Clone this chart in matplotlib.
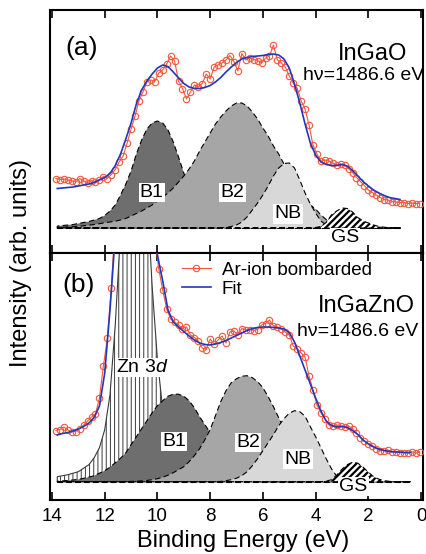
# XPS valence band spectra of InGaO and InGaZnO with peak-fit components.
import numpy as np
import matplotlib
matplotlib.use("Agg")
import matplotlib.pyplot as plt

plt.rcParams["font.family"] = ["Liberation Sans", "DejaVu Sans"]
plt.rcParams["mathtext.fontset"] = "custom"
plt.rcParams["mathtext.rm"] = "Liberation Sans"
plt.rcParams["mathtext.it"] = "Liberation Sans:italic"

# Energy grids (eV): measured points and fit/components
data_e = np.round(np.arange(13.85, 0.0, -0.15), 2)
comp_e_a = np.round(np.arange(13.8, 0.79, -0.2), 2)
comp_e_b = np.round(np.arange(13.8, 0.39, -0.2), 2)

# ---- panel (a) InGaO ----
data_a = [74.5, 73.5, 74, 73, 72, 71, 74.5, 72, 70.5, 72.5,
          71, 73.5, 76.5, 74.5, 78.5, 83.5, 91, 97, 110, 124,
          137, 152, 161, 171, 173, 171.5, 180, 183, 189, 197,
          192, 172, 164.5, 154, 161, 168, 166, 169.5, 179, 174,
          186, 188, 190, 193, 197.5, 191.5, 182, 199.5, 193, 195,
          193.5, 192.5, 190, 195, 197, 208, 193, 190, 186, 177,
          170, 165, 152, 144, 128, 108, 99, 92, 93, 92,
          90, 88, 89, 88, 84.5, 80.5, 75.5, 71.5, 67.5, 63,
          60.5, 58, 55.5, 53.5, 53, 51.5, 51, 50.5, 50.5, 49.5,
          50, 49.5, 49.5]
fit_a = [64.5, 65, 65.5, 66, 67, 68, 69, 70.5, 73, 75.5,
         79.5, 87.5, 99, 114, 130, 149, 163, 172, 179, 185,
         188, 186.5, 181, 175, 169.5, 166, 164.5, 164.5, 165.5, 167.5,
         171, 175.5, 181, 186, 190.5, 194, 195.5, 196.5, 197, 197.5,
         198.5, 199, 198, 194, 185, 169, 150, 129, 110, 98,
         91, 88.5, 87.5, 87.5, 88.5, 87, 82.5, 77, 71.5, 67,
         63, 60, 57.5, 55.5, 54.5, 53.5]
b1_a = [2, 2.5, 3, 3.5, 4.5, 5.5, 6.5, 8, 9.5, 12.5,
        17, 23, 33, 44, 57, 74, 88, 99, 105, 107,
        105, 98, 86, 71, 55, 41, 28, 19, 12, 8,
        5, 3, 2, 1, 0.5, 0, 0, 0, 0, 0,
        0, 0, 0, 0, 0, 0, 0, 0, 0, 0,
        0, 0, 0, 0, 0, 0, 0, 0, 0, 0,
        0, 0, 0, 0, 0, 0]
b2_a = [0.5, 0.7, 1, 1.3, 1.7, 2.2, 2.8, 3.5, 4.3, 5.3,
        6, 6.8, 8, 9.5, 12, 14.5, 17, 20, 23, 27,
        31, 35, 40, 46, 52, 59, 67, 77, 86, 95,
        104, 111, 117, 122, 125, 125, 122, 116, 109, 100,
        92, 82, 74, 64, 54, 45, 37, 29, 23, 19,
        13, 8.5, 5.5, 3.5, 2, 1.2, 0.7, 0.4, 0.2, 0,
        0, 0, 0, 0, 0, 0]
nb_a = [0, 0, 0, 0, 0, 0, 0, 0, 0, 0,
        0, 0, 0, 0, 0, 0, 0, 0, 0, 0,
        0, 0, 0, 0, 0, 0, 0, 0, 0, 0,
        0, 0, 0.5, 1.5, 3, 6, 11, 18, 25, 33,
        42, 52, 60, 64.5, 65, 60, 48, 35, 24, 15,
        7, 3, 1, 0.3, 0, 0, 0, 0, 0, 0,
        0, 0, 0, 0, 0, 0]
gs_a = [0, 0, 0, 0, 0, 0, 0, 0, 0, 0,
        0, 0, 0, 0, 0, 0, 0, 0, 0, 0,
        0, 0, 0, 0, 0, 0, 0, 0, 0, 0,
        0, 0, 0, 0, 0, 0, 0, 0, 0, 0,
        0, 0, 0, 0, 0, 0, 0, 0, 0, 0.5,
        1.5, 5.5, 13, 17, 20, 19.5, 16, 10.5, 7, 5,
        3, 1.5, 0.8, 0.3, 0, 0]
base_a = 25

# ---- panel (b) InGaZnO ----
data_b = [69.5, 70.5, 73, 70, 68, 68.5, 71.5, 75, 79, 83,
          86, 102, 134, 162, 212, 280, 330, 380, 410, 430,
          430, 415, 390, 350, 300, 262, 231, 210, 191, 181,
          178, 175, 171.5, 173, 165, 162.5, 159, 152, 150.5, 161,
          156, 160, 164, 157, 168, 169, 165.5, 171.5, 170, 170.5,
          169.5, 170.5, 175, 176.5, 180, 174, 173, 171, 168, 165,
          154, 151.5, 147, 143, 124, 110, 95, 87.5, 81, 75,
          74, 75, 74, 73.5, 74, 71.5, 67, 62.5, 59, 56.5,
          54.5, 51.5, 49, 49.5, 50, 48.3, 48.5, 47.5, 47, 47,
          48.3, 46.7, 48]
fit_b = [65, 66.5, 67.5, 69, 71, 73.5, 77, 82.5, 94, 127,
         190, 265, 330, 380, 410, 420, 400, 350, 290, 245,
         219, 190, 178, 173, 168.5, 164, 160, 157, 155.5, 155,
         156, 157.5, 159.5, 162, 164.5, 167, 169.5, 171.5, 172.5, 173,
         173, 172.5, 172, 171, 167.5, 158, 144, 130, 116, 102,
         89, 79, 74.5, 73, 73.5, 72.5, 69.5, 65.5, 60, 56,
         53, 51, 49.5, 48.5, 48, 48, 47.5, 47.5]
zn3d_b = [5, 6, 7, 8.5, 10, 13.5, 17, 24, 34, 52,
          87, 157, 250, 340, 400, 410, 370, 290, 195, 122,
          72, 45, 29, 20, 15, 12, 9.5, 8, 7, 6,
          5, 4, 3, 2.5, 2, 1.5, 1, 0.5, 0, 0,
          0, 0, 0, 0, 0, 0, 0, 0, 0, 0,
          0, 0, 0, 0, 0, 0, 0, 0, 0, 0,
          0, 0, 0, 0, 0, 0, 0, 0]
b1_b = [0.5, 0.8, 1.2, 1.7, 2.3, 3.4, 4.6, 6, 8.5, 11,
        14.5, 19, 23.5, 29, 37, 45, 53, 61, 69, 76,
        81, 85.5, 87.5, 87.5, 85.5, 81, 74, 65, 57, 49,
        41, 33, 26, 20, 15, 11, 8, 5.5, 4, 2.5,
        1.5, 1, 0.5, 0, 0, 0, 0, 0, 0, 0,
        0, 0, 0, 0, 0, 0, 0, 0, 0, 0,
        0, 0, 0, 0, 0, 0, 0, 0]
b2_b = [0, 0, 0, 0, 0, 0, 0, 0, 0, 0,
        0, 0, 0, 0, 0.3, 0.5, 0.8, 1.2, 2, 3,
        4.5, 6.5, 9, 12, 15, 20, 26, 33, 42, 52,
        66, 80, 91, 99, 103, 105.5, 106, 104, 100, 94,
        85, 75, 64, 53, 43, 34, 26, 20, 14.5, 10.5,
        7.5, 5, 3.3, 2, 1.2, 0.7, 0.4, 0.2, 0, 0,
        0, 0, 0, 0, 0, 0, 0, 0]
nb_b = [0, 0, 0, 0, 0, 0, 0, 0, 0, 0,
        0, 0, 0, 0, 0, 0, 0, 0, 0, 0,
        0, 0, 0, 0, 0, 0, 0, 0, 0, 0,
        0, 0.3, 1, 2, 3.5, 6, 10, 16, 23, 31,
        39, 47, 56, 63, 68.5, 71, 70, 65.5, 55, 45,
        34, 23, 13, 5.5, 2.5, 1, 0.4, 0, 0, 0,
        0, 0, 0, 0, 0, 0, 0, 0]
gs_b = [0, 0, 0, 0, 0, 0, 0, 0, 0, 0,
        0, 0, 0, 0, 0, 0, 0, 0, 0, 0,
        0, 0, 0, 0, 0, 0, 0, 0, 0, 0,
        0, 0, 0, 0, 0, 0, 0, 0, 0, 0,
        0, 0, 0, 0, 0, 0, 0, 0, 0, 0,
        0, 0.5, 2, 6.5, 12.5, 17, 19.5, 18.5, 14.5, 9.5,
        5, 2.5, 1, 0.4, 0, 0, 0, 0]
base_b = 18.3

xticks = [14, 12, 10, 8, 6, 4, 2, 0]

RED = "#f5553a"
BLUE = "#2038c0"
DASH = (0, (5, 3))

fig = plt.figure(figsize=(4.26, 5.54), dpi=100)
ax_a = fig.add_axes([50 / 426, 301 / 554, 373 / 426, 243 / 554])
ax_b = fig.add_axes([50 / 426, 54 / 554, 373 / 426, 247 / 554])


def shade(ax, e, base, vals, face, z, hatch=None, edge="black", ls=DASH, hlw=1.0):
    # Fill one fit component above the baseline.
    with plt.rc_context({"hatch.linewidth": hlw}):
        ax.fill_between(e, base, base + np.array(vals), facecolor=face,
                        edgecolor=edge, linewidth=0.8, linestyle=ls,
                        hatch=hatch, zorder=z)


def label(ax, x, y, s, size=14, box=True):
    kw = dict(ha="center", va="center", fontsize=size, zorder=8)
    if box:
        kw["bbox"] = dict(facecolor="white", edgecolor="none", pad=0.8)
    ax.text(x, y, s, **kw)


# Panel (a)
shade(ax_a, comp_e_a, base_a, b1_a, "#6e6e6e", 2)
shade(ax_a, comp_e_a, base_a, b2_a, "#a6a6a6", 2.1)
shade(ax_a, comp_e_a, base_a, nb_a, "#d8d8d8", 2.2)
shade(ax_a, comp_e_a, base_a, gs_a, "white", 2.3, hatch="/////", hlw=1.6)
ax_a.plot(comp_e_a, np.full(len(comp_e_a), base_a), color="black", lw=0.8, ls=DASH, zorder=3)
ax_a.plot(data_e, data_a, color=RED, lw=0.8, marker="o", ms=4.6, mfc="none",
          mec=RED, mew=0.8, zorder=4)
ax_a.plot(comp_e_a, fit_a, color=BLUE, lw=1.2, zorder=5)
ax_a.set_ylim(0, 243)
ax_a.text(12.87, 205.5, "(a)", fontsize=19, ha="center", va="center")
ax_a.text(0.53, 199, "InGaO", fontsize=17, ha="right", va="center")
ax_a.text(-0.11, 177, "h\u03bd=1486.6 eV", fontsize=14, ha="right", va="center")
label(ax_a, 10.22, 60.5, "B1")
label(ax_a, 7.15, 60.5, "B2")
label(ax_a, 5.04, 39, "NB")
label(ax_a, 2.88, 15.5, "GS")

# Panel (b)
shade(ax_b, comp_e_b, base_b, zn3d_b, "white", 1.9, hatch="||||", edge="#3a3a3a", ls="-", hlw=0.7)
shade(ax_b, comp_e_b, base_b, b1_b, "#6e6e6e", 2)
shade(ax_b, comp_e_b, base_b, b2_b, "#a6a6a6", 2.1)
shade(ax_b, comp_e_b, base_b, nb_b, "#d8d8d8", 2.2)
shade(ax_b, comp_e_b, base_b, gs_b, "white", 2.3, hatch="/////", hlw=1.6)
ax_b.plot(comp_e_b, np.full(len(comp_e_b), base_b), color="black", lw=0.8, ls=DASH, zorder=3)
ax_b.plot(data_e, data_b, color=RED, lw=0.8, marker="o", ms=4.6, mfc="none",
          mec=RED, mew=0.8, zorder=4, label="Ar-ion bombarded")
ax_b.plot(comp_e_b, fit_b, color=BLUE, lw=1.2, zorder=5, label="Fit")
ax_b.set_ylim(0, 247)
ax_b.text(13.0, 215, "(b)", fontsize=19, ha="center", va="center")
ax_b.text(0.23, 194, "InGaZnO", fontsize=17, ha="right", va="center")
ax_b.text(0.115, 169, "h\u03bd=1486.6 eV", fontsize=14, ha="right", va="center")
label(ax_b, 10.57, 132.5, "Zn 3$\\mathit{d}$")
label(ax_b, 9.37, 58.3, "B1")
label(ax_b, 6.55, 57.5, "B2")
label(ax_b, 4.66, 41, "NB")
label(ax_b, 2.57, 13.3, "GS")
ax_b.legend(loc="upper left", bbox_to_anchor=(0.355, 0.965), frameon=False,
            fontsize=13.5, handlelength=1.5, handletextpad=0.6,
            labelspacing=0.1, borderpad=0, borderaxespad=0)

for ax in (ax_a, ax_b):
    ax.set_xlim(14.076, -0.074)
    ax.set_xticks(xticks)
    ax.set_yticks([])
    ax.tick_params(axis="x", direction="in", top=True, bottom=True,
                   length=6, width=1.2, labelsize=13.5, pad=6)
    for sp in ax.spines.values():
        sp.set_linewidth(1.5)
ax_a.tick_params(axis="x", labelbottom=False)
ax_b.set_xticklabels([str(t) for t in xticks])

fig.text(21 / 426, 1 - 263 / 554, "Intensity (arb. units)", rotation=90,
         fontsize=17, ha="center", va="center")
fig.text(243 / 426, 1 - 547 / 554, "Binding Energy (eV)", fontsize=17,
         ha="center", va="baseline")

fig.savefig("out.png", dpi=100)
